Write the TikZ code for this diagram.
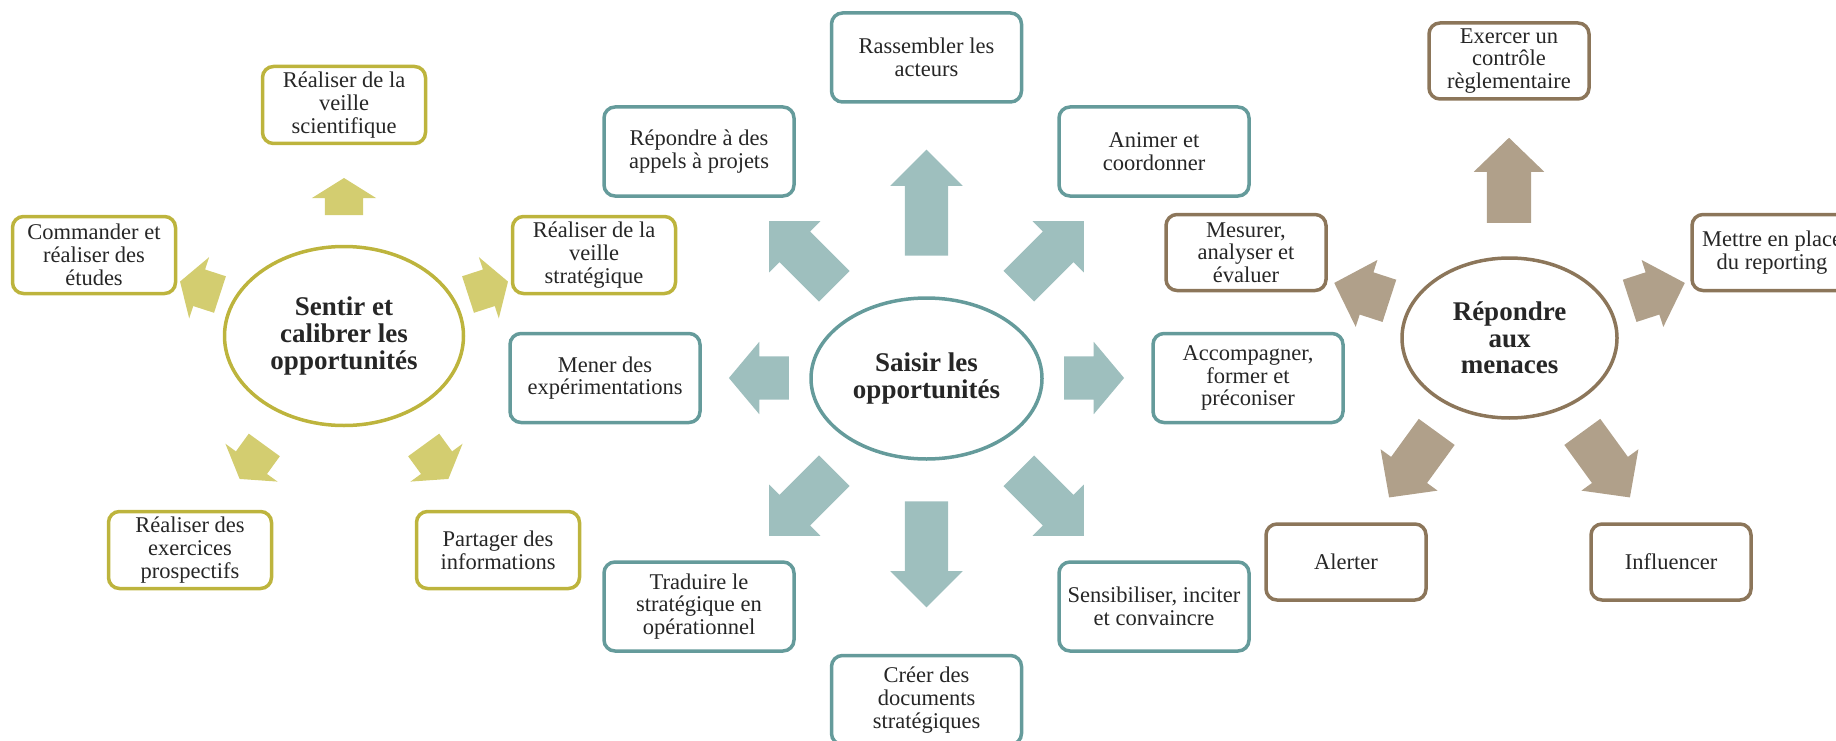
\documentclass[tikz,border=0pt]{standalone}
\usepackage{fontspec}
\setmainfont{Liberation Serif}
\usetikzlibrary{shapes.geometric,shapes.arrows}

\definecolor{oliveline}{HTML}{BDB43D}
\definecolor{olivefill}{HTML}{D3CD70}
\definecolor{tealline}{HTML}{659B9B}
\definecolor{tealfill}{HTML}{9EBFBE}
\definecolor{taupeline}{HTML}{8C765A}
\definecolor{taupefill}{HTML}{B0A08A}
\definecolor{ink}{HTML}{262626}

\begin{document}
\begin{tikzpicture}[x=1pt,y=-1pt,text=ink,
   font=\fontsize{22.5}{22.7}\selectfont,
   box/.style={draw,rounded corners=11pt,line width=3.5pt,align=center,inner sep=0pt},
   sbox/.style={box,draw=oliveline,minimum width=163pt,minimum height=77pt},
   obox/.style={box,draw=tealline,minimum width=190pt,minimum height=89pt},
   rbox/.style={box,draw=taupeline,minimum width=160pt,minimum height=76pt},
   hub/.style={ellipse,draw,line width=3.5pt,inner sep=0pt,align=center,
     font=\fontsize{27}{26.7}\selectfont\bfseries},
   blk/.style={single arrow,draw=none,inner xsep=0pt,single arrow head indent=0pt},
   sarr/.style={blk,fill=olivefill,inner ysep=19pt,single arrow head extend=13pt,
     single arrow tip angle=116,minimum height=42pt},
   oarr/.style={blk,fill=tealfill,inner ysep=21.5pt,single arrow head extend=14.5pt,
     single arrow tip angle=90},
   rarr/.style={blk,fill=taupefill,inner ysep=22pt,single arrow head extend=13pt,
     single arrow tip angle=92}]
  \useasboundingbox (0,0) rectangle (1836,741);
  \clip (0,0) rectangle (1836,741);

  % sentir et calibrer
  \node[hub,draw=oliveline,minimum width=239pt,minimum height=179pt] (sentir) at (344,336)
    {Sentir et\\calibrer les\\opportunités};
  \node[sbox] (vsci) at (344,105) {Réaliser de la\\veille\\scientifique};
  \node[sbox] (etudes) at (94,255) {Commander et\\réaliser des\\études};
  \node[sbox] (vstrat) at (594,255) {Réaliser de la\\veille\\stratégique};
  \node[sbox] (prosp) at (190,550) {Réaliser des\\exercices\\prospectifs};
  \node[sbox] (partage) at (498,550) {Partager des\\informations};
  \node[sarr,rotate=90,minimum height=37pt] (s1) at (344,202.5) {};
  \node[sarr,rotate=162] (s2) at (205.7,289.9) {};
  \node[sarr,rotate=18] (s3) at (482.3,289.9) {};
  \node[sarr,rotate=234] (s4) at (255.5,457.1) {};
  \node[sarr,rotate=306] (s5) at (432.5,457.1) {};

  % saisir
  \node[hub,draw=tealline,minimum width=231pt,minimum height=161pt] (saisir) at (926.5,378.5)
    {Saisir les\\opportunités};
  \node[obox] (acteurs) at (926.5,57.5) {Rassembler les\\acteurs};
  \node[obox] (appels) at (699,151.5) {Répondre à des\\appels à projets};
  \node[obox] (animer) at (1154,151.5) {Animer et\\coordonner};
  \node[obox] (mener) at (605,378) {Mener des\\expérimentations};
  \node[obox] (accomp) at (1248,378) {Accompagner,\\former et\\préconiser};
  \node[obox] (traduire) at (699,606.5) {Traduire le\\stratégique en\\opérationnel};
  \node[obox] (sensib) at (1154,606.5) {Sensibiliser, inciter\\et convaincre};
  \node[obox] (docs) at (926.5,700) {Créer des\\documents\\stratégiques};
  \node[oarr,rotate=90,minimum height=106pt] (o1) at (926.5,213.5) {};
  \node[oarr,rotate=270,minimum height=106pt] (o2) at (926.5,543.5) {};
  \node[oarr,rotate=135,minimum height=92pt] (o3) at (809.4,261.4) {};
  \node[oarr,rotate=45,minimum height=92pt] (o4) at (1043.6,261.4) {};
  \node[oarr,rotate=225,minimum height=92pt] (o5) at (809.4,495.6) {};
  \node[oarr,rotate=315,minimum height=92pt] (o6) at (1043.6,495.6) {};
  \node[oarr,rotate=180,minimum height=60pt,single arrow tip angle=100] (o7) at (768,378) {};
  \node[oarr,minimum height=60pt,single arrow tip angle=100] (o8) at (1085,378) {};

  % repondre aux menaces
  \node[hub,draw=taupeline,minimum width=215pt,minimum height=160pt] (menaces) at (1509.5,338)
    {Répondre\\aux\\menaces};
  \node[rbox] (controle) at (1509,61) {Exercer un\\contrôle\\règlementaire};
  \node[rbox] (mesurer) at (1246,252.5) {Mesurer,\\analyser et\\évaluer};
  \node[rbox] (report) at (1772,252.5) {Mettre en place\\du reporting};
  \node[rbox] (alerter) at (1346,562) {Alerter};
  \node[rbox] (influ) at (1671,562) {Influencer};
  \node[rarr,rotate=90,minimum height=85pt] (r1) at (1509,191) {};
  \node[rarr,rotate=162,minimum height=58pt] (r2) at (1372,295.2) {};
  \node[rarr,rotate=18,minimum height=58pt] (r3) at (1647,295.2) {};
  \node[rarr,rotate=234,minimum height=81pt] (r4) at (1419.2,456) {};
  \node[rarr,rotate=306,minimum height=81pt] (r5) at (1599.8,456) {};
\end{tikzpicture}
\end{document}
